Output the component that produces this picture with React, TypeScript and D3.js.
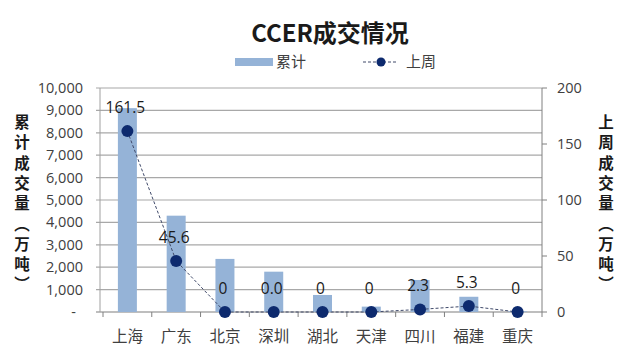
import React from "react";
import * as d3 from "d3";

const categories = ["上海", "广东", "北京", "深圳", "湖北", "天津", "四川", "福建", "重庆"];
const cumulative = [9100, 4300, 2370, 1800, 760, 240, 1430, 680, 30];
const lastWeek = [161.5, 45.6, 0, 0, 0, 0, 2.3, 5.3, 0];
const lastWeekLabels = ["161.5", "45.6", "0", "0.0", "0", "0", "2.3", "5.3", "0"];
const leftTicks = [0, 1000, 2000, 3000, 4000, 5000, 6000, 7000, 8000, 9000, 10000];
const rightTicks = [0, 50, 100, 150, 200];
const leftTitle = ["累", "计", "成", "交", "量", "︵", "万", "吨", "︶"];
const rightTitle = ["上", "周", "成", "交", "量", "︵", "万", "吨", "︶"];

const W = 639, H = 359;
const L = 100, R = 542, T = 88, B = 312;
const FONT = "'Open Sans', 'Noto Sans CJK SC', sans-serif";
const CJK = "'Noto Sans CJK SC', sans-serif";

export default function App() {
  const x = d3.scaleBand<string>().domain(categories).range([L + 3, R]).paddingInner(0).paddingOuter(0);
  const yL = d3.scaleLinear().domain([0, 10000]).range([B, T]);
  const yR = d3.scaleLinear().domain([0, 200]).range([B, T]);
  const bw = 19;
  const fmt = d3.format(",");
  const line = d3.line<number>()
    .x((_, i) => (x(categories[i]) as number) + x.bandwidth() / 2)
    .y((d) => yR(d));
  const bounds = d3.range(categories.length + 1).map((i) => (L + 3) + i * x.bandwidth());

  return (
    <svg width={W} height={H} style={{ position: "absolute", left: 0, top: 0, background: "#fff" }}>
      <text x={330} y={42} textAnchor="middle" fontFamily={CJK} fontWeight="bold" fontSize={24} fill="#1a1a1a">CCER成交情况</text>
      {/* legend */}
      <rect x={235} y={58} width={38} height={8} fill="#95b3d7" />
      <text x={276} y={67} fontFamily={CJK} fontSize={15} fill="#404040">累计</text>
      <line x1={363} x2={398} y1={62} y2={62} stroke="#404a6a" strokeWidth={1} strokeDasharray="3,2" />
      <circle cx={381} cy={62} r={4.5} fill="#0d2a6e" />
      <text x={406} y={67} fontFamily={CJK} fontSize={15} fill="#404040">上周</text>

      {/* grid */}
      {leftTicks.map((t) => (
        <line key={"g" + t} x1={L - 4} x2={R} y1={yL(t)} y2={yL(t)} stroke={t === 0 ? "#7f7f7f" : "#a8a8a8"} strokeWidth={1.2} />
      ))}
      <line x1={L} x2={L} y1={T} y2={B} stroke="#a0a0a0" />
      <line x1={R} x2={R} y1={T} y2={B} stroke="#808080" />
      {rightTicks.map((t) => (
        <line key={"rt" + t} x1={R} x2={R + 5} y1={yR(t)} y2={yR(t)} stroke="#808080" />
      ))}
      {bounds.map((b, i) => (
        <line key={"bt" + i} x1={b} x2={b} y1={B} y2={B + 5} stroke="#808080" />
      ))}

      {/* left tick labels */}
      {leftTicks.map((t) => (
        <text key={"lt" + t} x={t === 0 ? 76 : 83} y={yL(t) + 5} textAnchor="end" fontFamily={FONT} fontSize={14.5} fill="#404040">
          {t === 0 ? "-" : fmt(t)}
        </text>
      ))}
      {rightTicks.map((t) => (
        <text key={"rl" + t} x={557} y={yR(t) + 5} fontFamily={FONT} fontSize={14.5} fill="#404040">{t}</text>
      ))}

      {/* bars */}
      {cumulative.map((v, i) => (
        <rect key={"b" + i} x={(x(categories[i]) as number) + x.bandwidth() / 2 - bw / 2} y={yL(v)} width={bw} height={B - yL(v)} fill="#95b3d7" />
      ))}

      {/* line */}
      <path d={line(lastWeek) || ""} fill="none" stroke="#404a6a" strokeWidth={1} strokeDasharray="3,2" />
      {lastWeek.map((v, i) => (
        <circle key={"c" + i} cx={(x(categories[i]) as number) + x.bandwidth() / 2} cy={yR(v)} r={6} fill="#0d2a6e" />
      ))}
      {lastWeek.map((v, i) => (
        <text key={"vl" + i} x={(x(categories[i]) as number) + x.bandwidth() / 2 - 2} y={yR(v) - 18} textAnchor="middle" fontFamily={FONT} fontSize={15.5} fill="#1a1a1a">
          {lastWeekLabels[i]}
        </text>
      ))}

      {/* category labels */}
      {categories.map((c) => (
        <text key={c} x={(x(c) as number) + x.bandwidth() / 2} y={342} textAnchor="middle" fontFamily={CJK} fontSize={15.5} fill="#404040">{c}</text>
      ))}

      {/* axis titles */}
      {leftTitle.map((ch, i) => (
        <text key={"la" + i} x={22} y={128 + i * 20.3} textAnchor="middle" fontFamily={CJK} fontWeight="bold" fontSize={15.5} fill="#1a1a1a">{ch}</text>
      ))}
      {rightTitle.map((ch, i) => (
        <text key={"ra" + i} x={606} y={128 + i * 20.3} textAnchor="middle" fontFamily={CJK} fontWeight="bold" fontSize={15.5} fill="#1a1a1a">{ch}</text>
      ))}
    </svg>
  );
}
